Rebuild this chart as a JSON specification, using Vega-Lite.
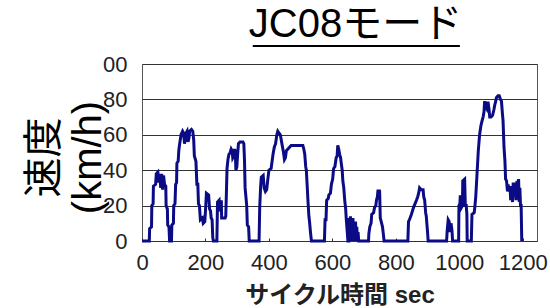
{
  "$schema": "https://vega.github.io/schema/vega-lite/v6.json",
  "autosize": "none",
  "width": 395,
  "height": 177,
  "padding": {"left": 142, "top": 64, "right": 13, "bottom": 67},
  "background": "white",
  "config": {
    "font": "Liberation Sans, Noto Sans CJK JP, sans-serif",
    "view": {"stroke": "#555", "strokeWidth": 1},
    "axis": {"labelOverlap": false}
  },
  "title": {
    "text": "JC08モード",
    "fontSize": 40,
    "fontWeight": "normal",
    "color": "#000",
    "font": "Liberation Sans, Noto Sans CJK JP, sans-serif",
    "dx": 16,
    "offset": 0
  },
  "layer": [
    {
      "data": {"values": [
        {"sec":0,"kmh":0},{"sec":23,"kmh":0},{"sec":24,"kmh":7},{"sec":30,"kmh":8},{"sec":31,"kmh":20},{"sec":35,"kmh":21},{"sec":36,"kmh":31},{"sec":43,"kmh":32},{"sec":45,"kmh":38},{"sec":50,"kmh":39},{"sec":53,"kmh":33},{"sec":56,"kmh":38},{"sec":59,"kmh":30},{"sec":62,"kmh":38},{"sec":65,"kmh":29},{"sec":68,"kmh":37},{"sec":71,"kmh":32},{"sec":75,"kmh":31},{"sec":76,"kmh":20},{"sec":80,"kmh":18},{"sec":81,"kmh":9},{"sec":85,"kmh":8},{"sec":87,"kmh":0},{"sec":93,"kmh":0},
        {"sec":94,"kmh":9},{"sec":99,"kmh":10},{"sec":100,"kmh":20},{"sec":104,"kmh":21},{"sec":106,"kmh":32},{"sec":109,"kmh":33},{"sec":110,"kmh":44},{"sec":114,"kmh":45},{"sec":116,"kmh":51},{"sec":118,"kmh":54},{"sec":123,"kmh":60},{"sec":128,"kmh":62},{"sec":131,"kmh":61},{"sec":134,"kmh":55},{"sec":137,"kmh":58},{"sec":139,"kmh":61},{"sec":142,"kmh":62},{"sec":145,"kmh":56},{"sec":148,"kmh":58},{"sec":150,"kmh":62},{"sec":156,"kmh":63},{"sec":160,"kmh":62},{"sec":163,"kmh":57},{"sec":165,"kmh":48},{"sec":170,"kmh":45},{"sec":173,"kmh":32},{"sec":176,"kmh":32},{"sec":178,"kmh":21},{"sec":181,"kmh":20},{"sec":184,"kmh":12},{"sec":190,"kmh":13},{"sec":193,"kmh":10},{"sec":198,"kmh":11},{"sec":201,"kmh":20},{"sec":203,"kmh":27},{"sec":210,"kmh":26},{"sec":213,"kmh":18},{"sec":216,"kmh":17},{"sec":218,"kmh":13},{"sec":221,"kmh":12},{"sec":223,"kmh":2},{"sec":225,"kmh":0},{"sec":236,"kmh":0},
        {"sec":238,"kmh":22},{"sec":243,"kmh":23},{"sec":244,"kmh":18},{"sec":248,"kmh":19},{"sec":250,"kmh":23},{"sec":251,"kmh":13},{"sec":262,"kmh":13},{"sec":264,"kmh":14},{"sec":266,"kmh":27},{"sec":268,"kmh":41},{"sec":271,"kmh":46},{"sec":274,"kmh":49},{"sec":278,"kmh":50},{"sec":281,"kmh":52},{"sec":284,"kmh":51},{"sec":286,"kmh":47},{"sec":289,"kmh":48},{"sec":292,"kmh":52},{"sec":294,"kmh":50},{"sec":296,"kmh":40},{"sec":299,"kmh":42},{"sec":301,"kmh":48},{"sec":304,"kmh":55},{"sec":309,"kmh":56},{"sec":318,"kmh":56},{"sec":321,"kmh":55},{"sec":323,"kmh":46},{"sec":325,"kmh":30},{"sec":327,"kmh":26},{"sec":330,"kmh":20},{"sec":332,"kmh":9},{"sec":336,"kmh":8},{"sec":338,"kmh":0},{"sec":369,"kmh":0},
        {"sec":371,"kmh":19},{"sec":374,"kmh":31},{"sec":376,"kmh":36},{"sec":382,"kmh":37},{"sec":385,"kmh":30},{"sec":389,"kmh":28},{"sec":393,"kmh":29},{"sec":396,"kmh":34},{"sec":400,"kmh":40},{"sec":407,"kmh":41},{"sec":410,"kmh":45},{"sec":413,"kmh":49},{"sec":417,"kmh":53},{"sec":421,"kmh":55},{"sec":425,"kmh":60},{"sec":428,"kmh":62},{"sec":432,"kmh":61},{"sec":436,"kmh":60},{"sec":440,"kmh":56},{"sec":442,"kmh":54},{"sec":446,"kmh":50},{"sec":449,"kmh":46},{"sec":452,"kmh":47},{"sec":455,"kmh":51},{"sec":460,"kmh":52},{"sec":465,"kmh":53},{"sec":470,"kmh":54},{"sec":507,"kmh":54},{"sec":510,"kmh":52},{"sec":513,"kmh":49},{"sec":516,"kmh":42},{"sec":518,"kmh":40},{"sec":521,"kmh":30},{"sec":523,"kmh":23},{"sec":526,"kmh":14},{"sec":528,"kmh":11},{"sec":531,"kmh":5},{"sec":534,"kmh":0},{"sec":575,"kmh":0},
        {"sec":577,"kmh":12},{"sec":580,"kmh":12},{"sec":582,"kmh":23},{"sec":587,"kmh":24},{"sec":589,"kmh":26},{"sec":594,"kmh":27},{"sec":597,"kmh":32},{"sec":601,"kmh":35},{"sec":604,"kmh":41},{"sec":608,"kmh":42},{"sec":612,"kmh":47},{"sec":615,"kmh":48},{"sec":617,"kmh":54},{"sec":620,"kmh":52},{"sec":623,"kmh":49},{"sec":626,"kmh":47},{"sec":628,"kmh":44},{"sec":631,"kmh":40},{"sec":633,"kmh":34},{"sec":636,"kmh":30},{"sec":639,"kmh":23},{"sec":642,"kmh":18},{"sec":644,"kmh":12},{"sec":647,"kmh":5},{"sec":649,"kmh":0},{"sec":652,"kmh":0},{"sec":653,"kmh":13},{"sec":655,"kmh":2},{"sec":657,"kmh":14},{"sec":659,"kmh":0},{"sec":661,"kmh":12},{"sec":663,"kmh":2},{"sec":665,"kmh":13},{"sec":667,"kmh":0},{"sec":669,"kmh":10},{"sec":671,"kmh":3},{"sec":673,"kmh":11},{"sec":675,"kmh":0},{"sec":677,"kmh":8},{"sec":679,"kmh":0},{"sec":681,"kmh":5},{"sec":683,"kmh":0},{"sec":714,"kmh":0},
        {"sec":715,"kmh":4},{"sec":718,"kmh":8},{"sec":722,"kmh":10},{"sec":724,"kmh":15},{"sec":730,"kmh":16},{"sec":733,"kmh":19},{"sec":737,"kmh":20},{"sec":739,"kmh":23},{"sec":742,"kmh":25},{"sec":744,"kmh":29},{"sec":746,"kmh":25},{"sec":748,"kmh":29},{"sec":749,"kmh":28},{"sec":751,"kmh":13},{"sec":754,"kmh":11},{"sec":758,"kmh":8},{"sec":760,"kmh":5},{"sec":763,"kmh":0},{"sec":838,"kmh":0},
        {"sec":840,"kmh":11},{"sec":843,"kmh":12},{"sec":849,"kmh":15},{"sec":856,"kmh":19},{"sec":865,"kmh":23},{"sec":869,"kmh":25},{"sec":872,"kmh":27},{"sec":875,"kmh":30},{"sec":880,"kmh":29},{"sec":886,"kmh":29},{"sec":888,"kmh":25},{"sec":891,"kmh":23},{"sec":894,"kmh":16},{"sec":896,"kmh":14},{"sec":900,"kmh":5},{"sec":902,"kmh":0},{"sec":960,"kmh":0},
        {"sec":962,"kmh":6},{"sec":965,"kmh":12},{"sec":968,"kmh":11},{"sec":971,"kmh":5},{"sec":974,"kmh":10},{"sec":977,"kmh":6},{"sec":979,"kmh":0},{"sec":998,"kmh":0},
        {"sec":999,"kmh":20},{"sec":1002,"kmh":21},{"sec":1003,"kmh":25},{"sec":1006,"kmh":25},{"sec":1007,"kmh":19},{"sec":1010,"kmh":20},{"sec":1011,"kmh":34},{"sec":1017,"kmh":35},{"sec":1019,"kmh":20},{"sec":1022,"kmh":20},{"sec":1024,"kmh":15},{"sec":1025,"kmh":0},{"sec":1038,"kmh":0},
        {"sec":1040,"kmh":15},{"sec":1047,"kmh":16},{"sec":1049,"kmh":19},{"sec":1052,"kmh":25},{"sec":1056,"kmh":38},{"sec":1060,"kmh":51},{"sec":1064,"kmh":60},{"sec":1068,"kmh":65},{"sec":1072,"kmh":68},{"sec":1075,"kmh":70},{"sec":1078,"kmh":73},{"sec":1080,"kmh":79},{"sec":1083,"kmh":76},{"sec":1086,"kmh":75},{"sec":1088,"kmh":78},{"sec":1091,"kmh":78},{"sec":1094,"kmh":74},{"sec":1096,"kmh":70},{"sec":1100,"kmh":70},{"sec":1105,"kmh":71},{"sec":1109,"kmh":74},{"sec":1112,"kmh":77},{"sec":1115,"kmh":79},{"sec":1117,"kmh":81},{"sec":1122,"kmh":82},{"sec":1126,"kmh":82},{"sec":1130,"kmh":80},{"sec":1133,"kmh":79},{"sec":1136,"kmh":72},{"sec":1138,"kmh":68},{"sec":1141,"kmh":53},{"sec":1144,"kmh":45},{"sec":1146,"kmh":35},{"sec":1149,"kmh":34},{"sec":1152,"kmh":28},{"sec":1154,"kmh":32},{"sec":1157,"kmh":28},{"sec":1160,"kmh":31},{"sec":1162,"kmh":23},{"sec":1165,"kmh":31},{"sec":1168,"kmh":22},{"sec":1170,"kmh":33},{"sec":1173,"kmh":25},{"sec":1176,"kmh":33},{"sec":1179,"kmh":23},{"sec":1182,"kmh":34},{"sec":1184,"kmh":26},{"sec":1187,"kmh":35},{"sec":1189,"kmh":22},{"sec":1191,"kmh":30},{"sec":1193,"kmh":20},{"sec":1195,"kmh":20},{"sec":1197,"kmh":0}
      ]},
      "mark": {"type": "line", "color": "#0b0b85", "strokeWidth": 3, "strokeJoin": "miter"},
      "encoding": {
        "x": {
          "field": "sec", "type": "quantitative",
          "scale": {"domain": [0, 1245], "nice": false, "zero": false},
          "axis": {
            "values": [0, 200, 400, 600, 800, 1000, 1200],
            "tickCount": 20,
            "format": "d",
            "grid": false,
            "domain": true, "domainColor": "#333", "domainWidth": 1,
            "ticks": true, "tickSize": -3, "tickColor": "#333",
            "labelFontSize": 22, "labelColor": "#222", "labelPadding": 14,
            "labelFlush": false, "labelOverlap": false,
            "title": "サイクル時間 sec",
            "titleFontSize": 24, "titleFontWeight": "bold", "titleColor": "#222",
            "titlePadding": 10
          }
        },
        "y": {
          "field": "kmh", "type": "quantitative",
          "scale": {"domain": [0, 100], "nice": false},
          "axis": {
            "values": [0, 20, 40, 60, 80, 100],
            "tickCount": 20,
            "grid": true, "gridColor": "#333", "gridWidth": 1,
            "domain": false, "ticks": false,
            "labelFontSize": 22, "labelColor": "#222", "labelPadding": 15,
            "labelOverlap": false, "labelBound": false,
            "labelExpr": "datum.value == 100 ? '00' : datum.label",
            "title": ["速度", "(km/h)"],
            "titleFontSize": 40, "titleFontWeight": "normal", "titleColor": "#000",
            "titleAngle": -90, "titleAlign": "center", "titleBaseline": "middle",
            "titleLineHeight": 44, "titleX": -98, "titleY": 93
          }
        }
      }
    },
    {
      "data": {"values": [{}]},
      "mark": {"type": "rule", "color": "#000", "strokeWidth": 2},
      "encoding": {
        "x": {"datum": 349, "type": "quantitative"},
        "x2": {"datum": 1002},
        "y": {"datum": 110.2, "type": "quantitative"}
      }
    }
  ]
}
